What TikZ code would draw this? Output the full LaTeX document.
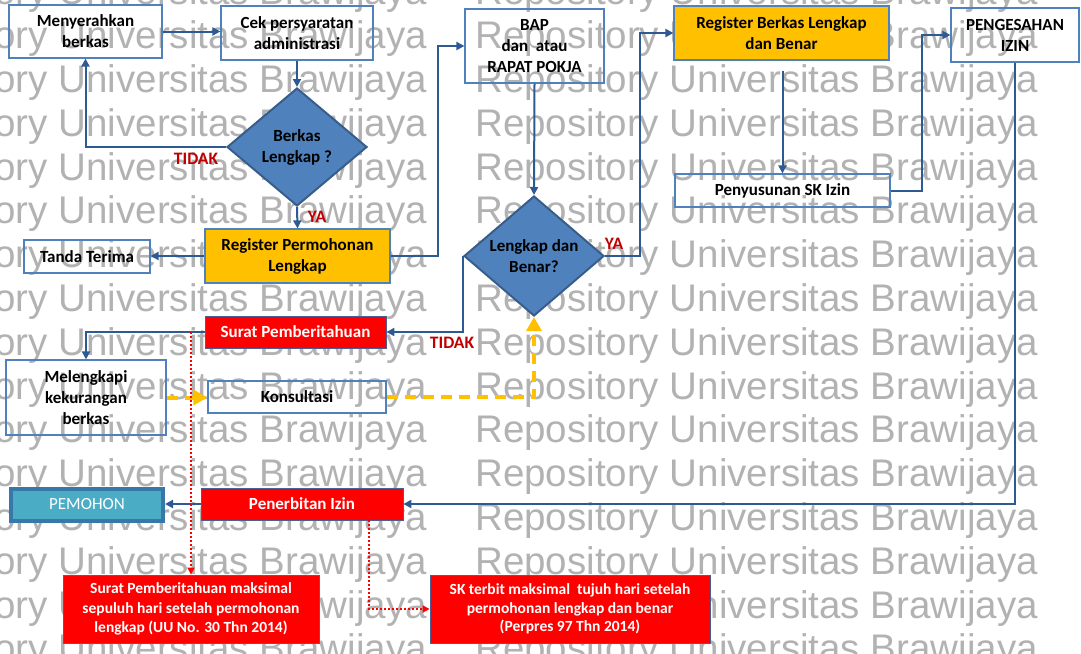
\documentclass[tikz,border=0pt]{standalone}
\usepackage{fontspec}
\setmainfont{Carlito}
\newfontfamily\wmfont{Liberation Sans}
\usetikzlibrary{arrows.meta,shapes.geometric}

\definecolor{conn}{HTML}{2E5A94}
\definecolor{boxline}{HTML}{4F81BD}
\definecolor{dfill}{HTML}{4F81BD}
\definecolor{dline}{HTML}{385D8A}
\definecolor{gold}{HTML}{FFC000}
\definecolor{alert}{HTML}{FF0000}
\definecolor{alertline}{HTML}{4A5E94}
\definecolor{lblred}{HTML}{C00000}
\definecolor{tealfill}{HTML}{4BACC6}
\definecolor{tealline}{HTML}{3878A8}
\definecolor{wm}{gray}{0.70}

\begin{document}
\begin{tikzpicture}[x=1pt,y=-1pt,
  txt/.style={font=\bfseries\fontsize{17}{21}\selectfont, align=center, inner sep=0pt},
  plain/.style={txt, draw=boxline, line width=1.2pt},
  goldbox/.style={plain, fill=gold},
  redbox/.style={txt, fill=alert, draw=alertline, line width=0.8pt, text=white},
  smallred/.style={redbox, font=\bfseries\fontsize{15.5}{19.5}\selectfont},
  cond/.style={txt, diamond, fill=dfill, draw=dline, line width=2pt, shape aspect=1.19},
  flow/.style={draw=conn, line width=2pt, -{Triangle[length=8pt,width=8pt]}},
  hint/.style={draw=gold, line width=4pt, dash pattern=on 11pt off 7pt, -{Triangle[length=14pt,width=15pt]}},
  note/.style={draw=alert, line width=1.8pt, dash pattern=on 2pt off 2pt, -{Triangle[length=7pt,width=7pt]}},
  lbl/.style={font=\bfseries\fontsize{17.5}{20}\selectfont, text=lblred, inner sep=0pt},
  wmtext/.style={font=\wmfont\fontsize{38.5}{40}\selectfont, text=wm, inner sep=0pt}
]
\useasboundingbox (0,0) rectangle (1081,653);

% background lettering, two columns per row
\begin{scope}
  \clip (0,0) rectangle (1081,653);
  \foreach \r [count=\i] in {4.8,48.6,92.4,136.2,180,223.8,267.6,311.4,355.2,399,442.8,486.6,530.4,574.2,618,661.8}{
    \node[wmtext, anchor=base east] (wl\i) at (427,\r) {Repository Universitas Brawijaya};
    \node[wmtext, anchor=base west] (wr\i) at (475,\r) {Repository Universitas Brawijaya};
  }
\end{scope}

% process boxes
\node[plain, minimum width=153pt, minimum height=53pt] (men) at (85.5,31.5) {Menyerahkan\\berkas};
\node[plain, minimum width=152pt, minimum height=54pt] (cek) at (297,33) {Cek persyaratan\\administrasi};
\node[cond, minimum width=140pt, minimum height=118pt] (d1) at (297,147) {Berkas\\Lengkap ?};
\node[goldbox, minimum width=185pt, minimum height=54pt] (regp) at (297.5,256) {Register Permohonan\\Lengkap};
\node[plain, minimum width=126pt, minimum height=33pt] (tanda) at (87,256.5) {Tanda Terima};
\node[plain, minimum width=139pt, minimum height=74pt] (bap) at (534.5,46) {BAP\\dan\ \ atau\\RAPAT POKJA};
\node[cond, minimum width=140pt, minimum height=120pt] (d2) at (534,256) {Lengkap dan\\Benar?};
\node[goldbox, minimum width=215pt, minimum height=54pt] (regb) at (781.5,33) {Register Berkas Lengkap\\dan Benar};
\node[plain, minimum width=215pt, minimum height=33pt] (peny) at (782.5,190.5) {Penyusunan SK Izin};
\node[plain, minimum width=128pt, minimum height=54pt] (peng) at (1015,35) {PENGESAHAN\\IZIN};
\node[redbox, minimum width=181pt, minimum height=32pt] (surat) at (295.5,332) {Surat Pemberitahuan};
\node[plain, minimum width=160pt, minimum height=75pt] (mel) at (86,397.5) {Melengkapi\\kekurangan\\berkas};
\node[plain, minimum width=178pt, minimum height=32pt] (kons) at (297,397) {Konsultasi};
\node[font=\fontsize{17}{21}\selectfont, text=white, fill=tealfill, draw=tealline, line width=4pt,
      minimum width=152pt, minimum height=32pt, inner sep=0pt] (pem) at (87,504.5) {PEMOHON};
\node[redbox, minimum width=202pt, minimum height=32pt] (pen) at (302,504) {Penerbitan Izin};
\node[smallred, minimum width=256pt, minimum height=68pt] (sp) at (191,609)
  {Surat Pemberitahuan maksimal\\sepuluh hari setelah permohonan\\lengkap (UU No. 30 Thn 2014)};
\node[smallred, font=\bfseries\fontsize{15.5}{18.5}\selectfont, minimum width=280pt, minimum height=68pt] (sk) at (570,609)
  {SK terbit maksimal\ \ tujuh hari setelah\\permohonan lengkap dan benar\\(Perpres 97 Thn 2014)};

% main flow
\draw[flow] (men.east) -- (men.east -| cek.west);
\draw[flow] (cek.south) -- (d1.north);
\draw[flow] (d1.west) -| (men.south);
\draw[flow] (d1.south) -- (regp.north);
\draw[flow] (regp.west) -- (regp.west -| tanda.east);
\draw[flow] (regp.east) -- ++(47,0) |- (bap.west);
\draw[flow] (bap.south) -- (d2.north);
\draw[flow] (d2.east) -- ++(35,0) |- (regb.west);
\draw[flow] (peny.north |- regb.south) ++(0,10) -- (peny.north);
\draw[flow] (peny.east) -- ++(31,0) |- (peng.west);
\draw[flow] (peng.south) |- (pen.east);
\draw[flow] (pen.west) -- (pen.west -| pem.east);
\draw[flow] (d2.west) |- (surat.east);
\draw[flow] (surat.west) -| (mel.north);

% consultation loop
\draw[hint] (mel.east) -- (mel.east -| kons.west);
\draw[hint] (kons.east) -| (d2.south);

% time limits
\draw[note] (sp.north |- surat.west) -- (sp.north);
\draw[note] ([xshift=67pt]pen.south) |- (sk.west);

% branch labels
\node[lbl] (no1) at (196,159) {TIDAK};
\node[lbl] (yes1) at (317,217) {YA};
\node[lbl] (yes2) at (614,244) {YA};
\node[lbl] (no2) at (452,343) {TIDAK};
\end{tikzpicture}
\end{document}
